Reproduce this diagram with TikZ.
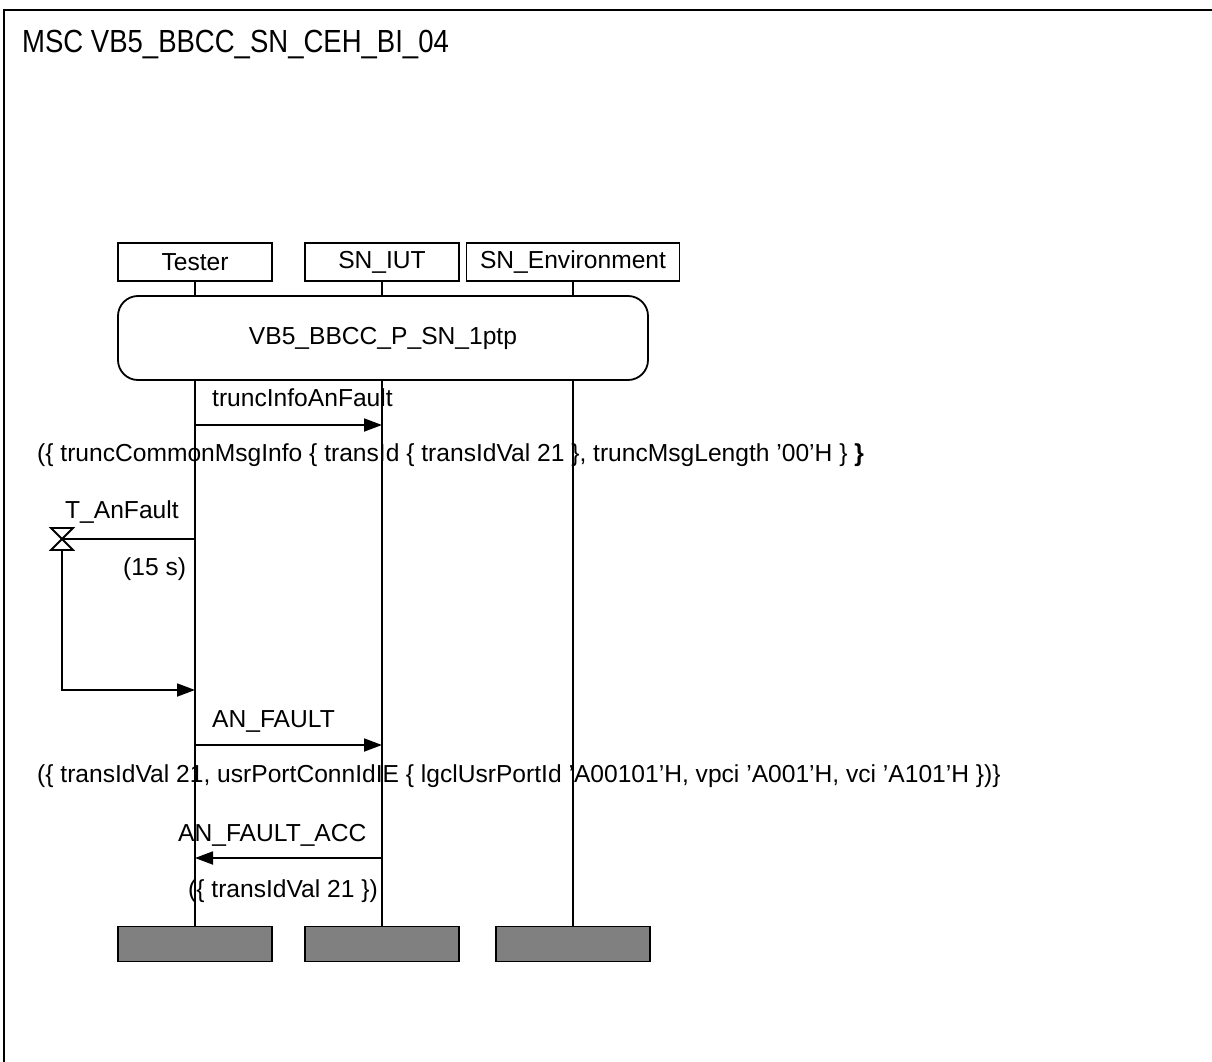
\documentclass[tikz,border=0pt]{standalone}
\usepackage{fontspec}
\setmainfont{Liberation Sans}
\newfontfamily\titlefont[FakeStretch=0.86]{Liberation Sans}
\usetikzlibrary{arrows.meta, calc}
\tikzset{
  txt/.style={font=\fontsize{24.6}{28}\selectfont, inner sep=0pt},
  inst/.style={draw, line width=1.8pt, minimum width=154pt, minimum height=38pt, inner sep=0pt, font=\fontsize{24.6}{28}\selectfont},
  instend/.style={draw, line width=1.8pt, fill=gray, minimum width=154pt, minimum height=35pt, inner sep=0pt},
  refbox/.style={draw, line width=1.8pt, rounded corners=20pt, minimum width=530pt, minimum height=84pt, font=\fontsize{24.6}{28}\selectfont},
  life/.style={line width=1.8pt},
  msg/.style={line width=1.8pt, -{Triangle[length=18pt, width=13pt]}},
}

\begin{document}
\begin{tikzpicture}[x=1pt, y=-1pt]
  \useasboundingbox (0,0) rectangle (1212,1062);
  \draw[line width=2pt] (4,1070) |- (1220,10);
  \node[font=\titlefont\fontsize{32}{38}\selectfont, inner sep=0pt, anchor=base west] (title) at (22,53) {MSC VB5\_BBCC\_SN\_CEH\_BI\_04};

  % instances
  \node[inst] (tester) at (195,262) {Tester};
  \node[inst] (iut) at (382,262) {SN\_IUT};
  \node[inst, minimum width=213pt] (env) at (573,262) {SN\_Environment};
  \node[refbox] (ref) at (383,338) {VB5\_BBCC\_P\_SN\_1ptp};
  \foreach \i in {tester, iut, env} {
    \node[instend] (\i-end) at (\i |- 0,944) {};
    \draw[life] (\i.south) -- (\i |- ref.north);
    \draw[life] (\i |- ref.south) -- (\i-end.north);
  }

  % truncInfoAnFault
  \draw[msg] (tester |- 0,425) -- (iut |- 0,425);
  \node[txt, anchor=base west] (m1) at (212,406) {truncInfoAnFault};
  \node[txt, anchor=base west] (p1) at (37,461) {(\{ truncCommonMsgInfo \{ transId \{ transIdVal 21 \}, truncMsgLength '00'H \} \textbf{\}}};

  % timer
  \coordinate (tmr) at (62,539);
  \coordinate (tmrbot) at ($(tmr)+(0,11)$);
  \draw[line width=1.8pt] ($(tmr)+(-11,-11)$) -- ++(22,0) -- ($(tmr)+(-11,11)$) -- ++(22,0) -- cycle;
  \draw[life] (tmr) -- (tester |- tmr);
  \node[txt, anchor=base west] (tname) at (65,518) {T\_AnFault};
  \node[txt, anchor=base west] (tdur) at (123,575) {(15 s)};
  \draw[msg] (tmrbot) |- (tester |- 0,690);

  % AN_FAULT
  \draw[msg] (tester |- 0,745) -- (iut |- 0,745);
  \node[txt, anchor=base west] (m2) at (212,727) {AN\_FAULT};
  \node[txt, anchor=base west] (p2) at (37,782) {(\{ transIdVal 21, usrPortConnIdIE \{ lgclUsrPortId 'A00101'H, vpci 'A001'H, vci 'A101'H \})\}};

  % AN_FAULT_ACC
  \draw[msg] (iut |- 0,858) -- (tester |- 0,858);
  \node[txt, anchor=base west] (m3) at (178,841) {AN\_FAULT\_ACC};
  \node[txt, anchor=base west] (p3) at (188,897) {(\{ transIdVal 21 \})};
\end{tikzpicture}
\end{document}
